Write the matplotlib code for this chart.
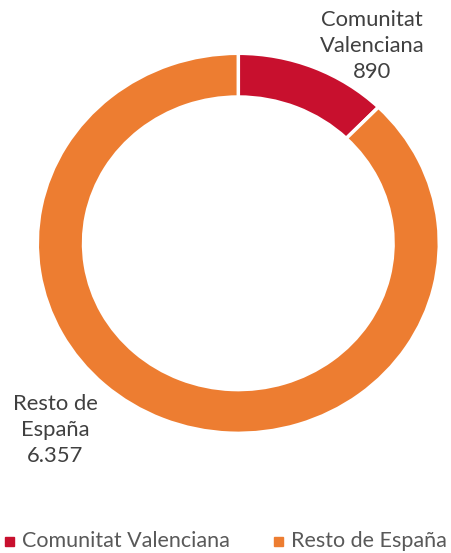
import matplotlib.pyplot as plt
from matplotlib.patches import Rectangle

plt.rcParams['font.family'] = ['Lato', 'DejaVu Sans']

regiones = ['Comunitat Valenciana', 'Resto de España']
valores = [890, 6357]
etiquetas = ['Comunitat\nValenciana\n890', 'Resto de\nEspaña\n6.357']
colores = ['#C8102E', '#ED7D31']

W, H = 451, 553
fig = plt.figure(figsize=(W / 100, H / 100), dpi=100)

# donut slightly elliptical, like the source image
x0, x1, y0, y1 = 37.3, 439.3, 53.3, 433.3
ax = fig.add_axes([x0 / W, 1 - y1 / H, (x1 - x0) / W, (y1 - y0) / H])
ax.pie(valores, colors=colores, startangle=90, counterclock=False,
       radius=1, wedgeprops=dict(width=0.23, edgecolor='white', linewidth=2.5))
ax.set_aspect('auto')
ax.set_xlim(-1, 1)
ax.set_ylim(-1, 1)
ax.axis('off')

txt = '#404040'
fig.text(372 / W, 1 - 46 / H, etiquetas[0], ha='center', va='center',
         fontsize=15.8, color=txt, linespacing=1.38)
fig.text(55 / W, 1 - 430 / H, etiquetas[1], ha='center', va='center',
         fontsize=15.8, color=txt, linespacing=1.38)

# legend
ley_x = [5, 274]
for xs, nombre, c in zip(ley_x, regiones, colores):
    fig.patches.append(Rectangle((xs / W, 1 - 546 / H), 9 / W, 9 / H,
                                 transform=fig.transFigure, color=c))
    fig.text((xs + 17) / W, 1 - 541 / H, nombre, ha='left', va='center',
             fontsize=15.5, color='#595959')

fig.savefig('out.png', dpi=100)
